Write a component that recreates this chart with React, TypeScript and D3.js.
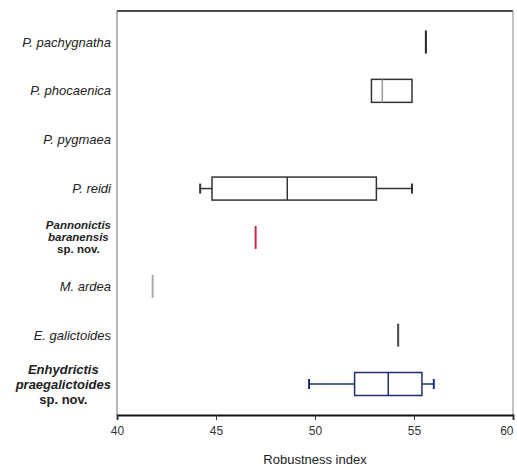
import { useEffect, useRef } from "react";
import * as d3 from "d3";

// rows, top to bottom
const taxa = [
  "P. pachygnatha",
  "P. phocaenica",
  "P. pygmaea",
  "P. reidi",
  "Pannonictis|baranensis|sp. nov.",
  "M. ardea",
  "E. galictoides",
  "Enhydrictis|praegalictoides|sp. nov.",
];
const boldTaxa = [false, false, false, false, true, false, false, true];
// [whiskerLow, q1, median, q3, whiskerHigh]; null = no data
const stats: (number[] | null)[] = [
  [55.6, 55.6, 55.6, 55.6, 55.6],
  [52.85, 52.85, 53.4, 54.9, 54.9],
  null,
  [44.2, 44.8, 48.6, 53.1, 54.9],
  [47.0, 47.0, 47.0, 47.0, 47.0],
  [41.8, 41.8, 41.8, 41.8, 41.8],
  [54.2, 54.2, 54.2, 54.2, 54.2],
  [49.7, 52.0, 53.7, 55.4, 56.0],
];
const strokes = ["#222", "#333", "#333", "#333", "#c8284a", "#aaa", "#444", "#1f2f6e"];
const xTicks = [40, 45, 50, 55, 60];

export default function App() {
  const svgRef = useRef<SVGSVGElement>(null);

  useEffect(() => {
    if (!svgRef.current) return;
    const W = 517;
    const H = 469;
    const margin = { top: 11, right: 4, bottom: 54, left: 117 };
    const width = W - margin.left - margin.right;
    const height = H - margin.top - margin.bottom;

    d3.select(svgRef.current).selectAll("*").remove();
    const svg = d3
      .select(svgRef.current)
      .attr("width", W)
      .attr("height", H)
      .style("display", "block")
      .style("font-family", "Arial, 'Liberation Sans', sans-serif");

    const g = svg.append("g").attr("transform", `translate(${margin.left},${margin.top})`);

    const x = d3.scaleLinear().domain([40, 60]).range([0, width]);
    const y = d3.scalePoint<number>().domain(d3.range(taxa.length)).range([31, height - 31]);

    // frame
    g.append("line").attr("x1", 0).attr("x2", width).attr("y1", 0).attr("y2", 0)
      .attr("stroke", "#111").attr("stroke-width", 1.6);
    g.append("line").attr("x1", width).attr("x2", width).attr("y1", 0).attr("y2", height)
      .attr("stroke", "#999").attr("stroke-width", 1.2);
    g.append("line").attr("x1", 0).attr("x2", 0).attr("y1", 0).attr("y2", height)
      .attr("stroke", "#888").attr("stroke-width", 1.2);

    // x axis
    const xAxis = g
      .append("g")
      .attr("transform", `translate(0,${height})`)
      .call(d3.axisBottom(x).tickValues(xTicks).tickSize(5).tickPadding(6));
    xAxis.select(".domain").attr("stroke", "#111").attr("stroke-width", 1.8);
    xAxis.selectAll(".tick line").attr("stroke", "#333");
    xAxis.selectAll("text").attr("fill", "#333").attr("font-size", 12);
    // last label sits at the window edge: keep it inside
    xAxis
      .selectAll<SVGTextElement, number>(".tick text")
      .filter((d) => d === 60)
      .attr("text-anchor", "end")
      .attr("x", 0);

    svg
      .append("text")
      .attr("x", 315)
      .attr("y", 464)
      .attr("text-anchor", "middle")
      .attr("font-size", 13)
      .attr("fill", "#222")
      .text("Robustness index");

    // y labels
    const labelRight = margin.left - 6;
    taxa.forEach((name, i) => {
      const lines = name.split("|");
      const cy = margin.top + (y(i) ?? 0);
      const t = svg
        .append("text")
        .attr("font-size", 13)
        .attr("fill", "#222")
        .attr("font-weight", boldTaxa[i] ? "bold" : "normal");
      if (lines.length === 1) {
        t.attr("x", labelRight).attr("y", cy).attr("dy", "0.35em")
          .attr("text-anchor", "end").attr("font-style", "italic").text(name);
      } else {
        const lh = i === 4 ? 12 : 15;
        if (i === 4) t.attr("font-size", 11.5);
        const spans = lines.map((l, k) =>
          t.append("tspan")
            .attr("y", cy + (k - (lines.length - 1) / 2) * lh)
            .attr("dy", "0.35em")
            .attr("font-style", l.startsWith("sp.") ? "normal" : "italic")
            .text(l)
        );
        const widths = spans.map((s) => (s.node() as SVGTextContentElement).getComputedTextLength());
        const cx = labelRight - d3.max(widths)! / 2;
        spans.forEach((s) => s.attr("x", cx));
        t.attr("text-anchor", "middle");
      }
    });

    // boxes
    const boxH = 23;
    stats.forEach((s, i) => {
      if (!s) return;
      const cy = y(i) ?? 0;
      const col = strokes[i];
      const [lo, q1, med, q3, hi] = s;
      if (q1 === q3) {
        g.append("line").attr("x1", x(med)).attr("x2", x(med))
          .attr("y1", cy - boxH / 2).attr("y2", cy + boxH / 2)
          .attr("stroke", col).attr("stroke-width", 2);
        return;
      }
      if (lo < q1) {
        g.append("line").attr("x1", x(lo)).attr("x2", x(q1)).attr("y1", cy).attr("y2", cy)
          .attr("stroke", col).attr("stroke-width", 1.5);
        g.append("line").attr("x1", x(lo)).attr("x2", x(lo)).attr("y1", cy - 5).attr("y2", cy + 5)
          .attr("stroke", col).attr("stroke-width", 2);
      }
      if (hi > q3) {
        g.append("line").attr("x1", x(q3)).attr("x2", x(hi)).attr("y1", cy).attr("y2", cy)
          .attr("stroke", col).attr("stroke-width", 1.5);
        g.append("line").attr("x1", x(hi)).attr("x2", x(hi)).attr("y1", cy - 5).attr("y2", cy + 5)
          .attr("stroke", col).attr("stroke-width", 2);
      }
      g.append("rect").attr("x", x(q1)).attr("y", cy - boxH / 2)
        .attr("width", x(q3) - x(q1)).attr("height", boxH)
        .attr("fill", "none").attr("stroke", col).attr("stroke-width", 1.5);
      g.append("line").attr("x1", x(med)).attr("x2", x(med))
        .attr("y1", cy - boxH / 2).attr("y2", cy + boxH / 2)
        .attr("stroke", i === 1 ? "#999" : col).attr("stroke-width", 1.5);
    });
  }, []);

  return (
    <div style={{ position: "absolute", left: 0, top: 0, width: 517, height: 469, background: "#fff" }}>
      <svg ref={svgRef}></svg>
    </div>
  );
}
